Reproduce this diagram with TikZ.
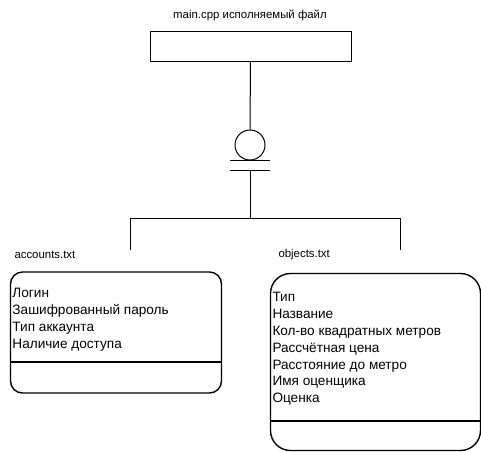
\documentclass[tikz,border=0pt]{standalone}
\usepackage{fontspec}
\setmainfont{Liberation Sans}
\begin{document}
\begin{tikzpicture}[x=1pt,y=-1pt,line width=1pt,
  lbl/.style={font=\fontsize{11.4}{13}\selectfont,inner sep=0pt},
  body/.style={font=\fontsize{13.6}{16.8}\selectfont,align=left,inner sep=0pt,anchor=north west},
  rbox/.style={draw,line width=1.4pt,rounded corners=12pt,inner sep=0pt}]
\useasboundingbox (0,0) rectangle (481,451);
% main box
\node[lbl] (title) at (250,15) {main.cpp исполняемый файл};
\node[draw,minimum width=201pt,minimum height=30pt,inner sep=0pt] (main) at (250.5,46) {};
\node[draw,circle,minimum size=30pt,inner sep=0pt] (circ) at (250,145) {};
\coordinate (l1a) at (230,160); \coordinate (l1b) at (270,160);
\coordinate (l2a) at (230,170); \coordinate (l2b) at (270,170);
\coordinate (l2m) at (250,170);
\coordinate (hub) at (250,218);
\coordinate (hl) at (130,218); \coordinate (hr) at (400,218);
\coordinate (el) at (130,250); \coordinate (er) at (400,250);
\draw (main.south) -- (circ.north);
\draw (l1a) -- (l1b);
\draw (l2a) -- (l2b);
\draw (l2m) -- (hub);
\draw (hl) -- (hr);
\draw (hl) -- (el);
\draw (hr) -- (er);
% accounts
\node[lbl,anchor=west] (acct) at (14,255) {accounts.txt};
\node[rbox,minimum width=211pt,minimum height=121pt] (abox) at (116,332.5) {};
\coordinate (ad1) at (10,362); \coordinate (ad2) at (221,362);
\draw[line width=1.4pt] (ad1) -- (ad2);
\node[body] (atext) at (12,288) {Логин\\Зашифрованный пароль\\Тип аккаунта\\Наличие доступа};
% objects
\node[lbl,anchor=west] (objt) at (278,255) {objects.txt};
\node[rbox,rounded corners=20pt,minimum width=210pt,minimum height=177pt] (obox) at (375.5,362) {};
\coordinate (od1) at (270,421); \coordinate (od2) at (481,421);
\draw[line width=1.4pt] (od1) -- (od2);
\node[body] (otext) at (272,292) {Тип\\Название\\Кол-во квадратных метров\\Рассчётная цена\\Расстояние до метро\\Имя оценщика\\Оценка};
\end{tikzpicture}
\end{document}
